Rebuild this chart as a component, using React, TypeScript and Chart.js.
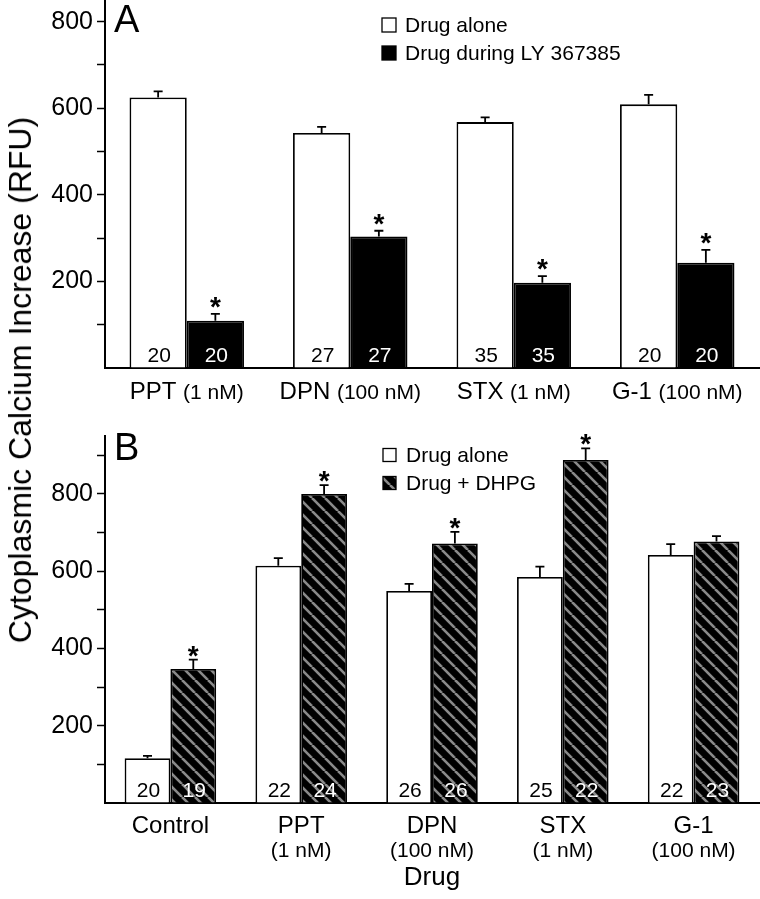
import React, { useEffect, useRef } from 'react';
import { Chart, registerables } from 'chart.js';
Chart.register(...registerables);

const FONT = '"Liberation Sans", Arial, Helvetica, sans-serif';

// ---------- Panel A data ----------
const catsA = ['PPT', 'DPN', 'STX', 'G-1'];
const concA = ['(1 nM)', '(100 nM)', '(1 nM)', '(100 nM)'];
const aloneA = [625, 543, 568, 609];
const aloneErrA = [14, 14, 11, 22];
const lyA = [109, 304, 197, 243];
const lyErrA = [16, 13, 15, 30];
const nAloneA = [20, 27, 35, 20];
const nLyA = [20, 27, 35, 20];
const sigAloneA = [false, false, false, false];
const sigLyA = [true, true, true, true];
const legendA = ['Drug alone', 'Drug during LY 367385'];

// ---------- Panel B data ----------
const catsB = ['Control', 'PPT', 'DPN', 'STX', 'G-1'];
const concB = ['', '(1 nM)', '(100 nM)', '(1 nM)', '(100 nM)'];
const aloneB = [116, 614, 549, 585, 642];
const aloneErrB = [6, 20, 18, 27, 28];
const dhpgB = [347, 800, 672, 888, 677];
const dhpgErrB = [24, 23, 30, 30, 14];
const nAloneB = [20, 22, 26, 25, 22];
const nDhpgB = [19, 24, 26, 22, 23];
const sigAloneB = [false, false, false, false, false];
const sigDhpgB = [true, true, true, true, false];
const legendB = ['Drug alone', 'Drug + DHPG'];

const yTickLabels = [200, 400, 600, 800];
const yTitle = 'Cytoplasmic Calcium Increase (RFU)';
const xTitleB = 'Drug';

function makeHatch(): CanvasPattern | string {
  const s = 13;
  const c = document.createElement('canvas');
  c.width = s;
  c.height = s;
  const g = c.getContext('2d');
  if (!g) return '#000';
  g.fillStyle = '#000';
  g.fillRect(0, 0, s, s);
  g.strokeStyle = '#8a8a8a';
  g.lineWidth = 2.6;
  for (const k of [-1, 0, 1]) {
    g.beginPath();
    g.moveTo(k * s, 0);
    g.lineTo(k * s + s, s);
    g.stroke();
  }
  return g.createPattern(c, 'repeat') || '#000';
}

type Series = {
  values: number[];
  errs: number[];
  n: number[];
  sig: boolean[];
  nColor: string;
};

type Cfg = {
  series: Series[];
  cats: string[];
  conc: string[];
  twoLine: boolean;
  letter: string;
  letterXY: [number, number];
  legend: string[];
  legendFills: (string | CanvasPattern)[];
  legendX: number;
  legendY: number[];
  legendBox: number;
  starOffset: number;
  xTitle?: string;
};

function annotPlugin(cfg: Cfg) {
  return {
    id: 'annot',
    afterDatasetsDraw(chart: any) {
      const ctx: CanvasRenderingContext2D = chart.ctx;
      const ys = chart.scales.y;
      const xs = chart.scales.x;
      const base = ys.getPixelForValue(0);
      ctx.save();
      cfg.series.forEach((s, di) => {
        const meta = chart.getDatasetMeta(di);
        meta.data.forEach((bar: any, i: number) => {
          const cx = bar.x;
          const top = ys.getPixelForValue(s.values[i]);
          const et = ys.getPixelForValue(s.values[i] + s.errs[i]);
          ctx.strokeStyle = '#000';
          ctx.lineWidth = 1.8;
          ctx.beginPath();
          ctx.moveTo(cx, top);
          ctx.lineTo(cx, et);
          ctx.moveTo(cx - 4.5, et);
          ctx.lineTo(cx + 4.5, et);
          ctx.stroke();
          if (s.sig[i]) {
            ctx.fillStyle = '#000';
            ctx.font = `bold 28px ${FONT}`;
            ctx.textAlign = 'center';
            ctx.textBaseline = 'alphabetic';
            ctx.fillText('*', cx, et + cfg.starOffset);
          }
          ctx.fillStyle = s.nColor;
          ctx.font = `21px ${FONT}`;
          ctx.textAlign = 'center';
          ctx.textBaseline = 'alphabetic';
          ctx.fillText(String(s.n[i]), cx + 1, base - 6);
        });
      });

      // category labels
      ctx.fillStyle = '#000';
      ctx.textBaseline = 'alphabetic';
      cfg.cats.forEach((c, i) => {
        const cx = xs.getPixelForValue(i);
        if (!cfg.twoLine) {
          const f1 = `24px ${FONT}`;
          const f2 = `21px ${FONT}`;
          ctx.font = f1;
          const w1 = ctx.measureText(c + ' ').width;
          ctx.font = f2;
          const w2 = ctx.measureText(cfg.conc[i]).width;
          const start = cx - (w1 + w2) / 2;
          ctx.textAlign = 'left';
          ctx.font = f1;
          ctx.fillText(c, start, base + 31);
          ctx.font = f2;
          ctx.fillText(cfg.conc[i], start + w1, base + 31);
        } else {
          ctx.textAlign = 'center';
          ctx.font = `24px ${FONT}`;
          ctx.fillText(c, cx, base + 30);
          if (cfg.conc[i]) {
            ctx.font = `21px ${FONT}`;
            ctx.fillText(cfg.conc[i], cx, base + 54);
          }
        }
      });
      if (cfg.xTitle) {
        ctx.textAlign = 'center';
        ctx.font = `26px ${FONT}`;
        ctx.fillText(cfg.xTitle, (chart.chartArea.left + chart.chartArea.right) / 2, base + 82);
      }

      // panel letter
      ctx.textAlign = 'left';
      ctx.font = `38px ${FONT}`;
      ctx.fillText(cfg.letter, cfg.letterXY[0], cfg.letterXY[1]);

      // legend
      cfg.legend.forEach((t, i) => {
        const b = cfg.legendBox;
        const yy = cfg.legendY[i];
        ctx.fillStyle = cfg.legendFills[i] as any;
        ctx.fillRect(cfg.legendX, yy - b / 2, b, b);
        ctx.strokeStyle = '#000';
        ctx.lineWidth = 1.3;
        ctx.strokeRect(cfg.legendX, yy - b / 2, b, b);
        ctx.fillStyle = '#000';
        ctx.font = `21px ${FONT}`;
        ctx.textAlign = 'left';
        ctx.textBaseline = 'middle';
        ctx.fillText(t, cfg.legendX + 23, yy + 1);
        ctx.textBaseline = 'alphabetic';
      });
      ctx.restore();
    },
  };
}

function makeOptions(max: number, xHeight: number, padTop: number) {
  return {
    responsive: false,
    animation: false as const,
    layout: { autoPadding: false, padding: { top: padTop, left: 0, right: 1, bottom: 0 } },
    plugins: { legend: { display: false }, tooltip: { enabled: false } },
    scales: {
      x: {
        grid: { display: true, drawOnChartArea: false, drawTicks: false },
        border: { display: true, color: '#000', width: 2 },
        ticks: { display: false },
        afterFit: (s: any) => {
          s.height = xHeight;
          s.paddingLeft = 0;
          s.paddingRight = 0;
        },
      },
      y: {
        min: 0,
        max,
        grid: {
          display: true,
          drawOnChartArea: false,
          drawTicks: true,
          tickLength: 8,
          tickWidth: 1.5,
          tickColor: (c: any) => (c.tick && c.tick.value === 0 ? 'rgba(0,0,0,0)' : '#000'),
        },
        border: { display: true, color: '#000', width: 2 },
        ticks: {
          stepSize: 100,
          includeBounds: false,
          padding: 4,
          color: '#000',
          font: { family: FONT, size: 25 },
          callback: (v: any) => (yTickLabels.includes(Number(v)) ? String(v) : ''),
        },
        afterFit: (s: any) => {
          s.width = 105;
          s.paddingTop = 0;
          s.paddingBottom = 0;
        },
      },
    },
  };
}

function PanelA() {
  const ref = useRef<HTMLCanvasElement>(null);
  useEffect(() => {
    if (!ref.current) return;
    const cfg: Cfg = {
      series: [
        { values: aloneA, errs: aloneErrA, n: nAloneA, sig: sigAloneA, nColor: '#000' },
        { values: lyA, errs: lyErrA, n: nLyA, sig: sigLyA, nColor: '#fff' },
      ],
      cats: catsA,
      conc: concA,
      twoLine: false,
      letter: 'A',
      letterXY: [114, 32],
      legend: legendA,
      legendFills: ['#fff', '#000'],
      legendX: 382,
      legendY: [25, 53],
      legendBox: 14,
      starOffset: 2,
    };
    const chart = new Chart(ref.current, {
      type: 'bar',
      data: {
        labels: catsA,
        datasets: [
          { label: legendA[0], data: aloneA, backgroundColor: '#fff', borderColor: '#000', borderWidth: 1.8, categoryPercentage: 0.7, barPercentage: 1 },
          { label: legendA[1], data: lyA, backgroundColor: '#000', borderColor: '#000', borderWidth: 1.8, categoryPercentage: 0.7, barPercentage: 1 },
        ],
      },
      options: makeOptions(850, 52, 0) as any,
      plugins: [annotPlugin(cfg)],
    });
    return () => chart.destroy();
  }, []);
  return <canvas ref={ref} width={760} height={420} style={{ position: 'absolute', left: 0, top: 0, width: 760, height: 420 }} />;
}

function PanelB() {
  const ref = useRef<HTMLCanvasElement>(null);
  useEffect(() => {
    if (!ref.current) return;
    const hatch = makeHatch();
    const cfg: Cfg = {
      series: [
        { values: aloneB, errs: aloneErrB, n: nAloneB, sig: sigAloneB, nColor: '#000' },
        { values: dhpgB, errs: dhpgErrB, n: nDhpgB, sig: sigDhpgB, nColor: '#fff' },
      ],
      cats: catsB,
      conc: concB,
      twoLine: true,
      letter: 'B',
      letterXY: [114, 40],
      legend: legendB,
      legendFills: ['#fff', hatch],
      legendX: 383,
      legendY: [35, 63],
      legendBox: 13,
      starOffset: 5,
      xTitle: xTitleB,
    };
    const chart = new Chart(ref.current, {
      type: 'bar',
      data: {
        labels: catsB,
        datasets: [
          { label: legendB[0], data: aloneB, backgroundColor: '#fff', borderColor: '#000', borderWidth: 1.8, categoryPercentage: 0.7, barPercentage: 1 },
          { label: legendB[1], data: dhpgB, backgroundColor: hatch as any, borderColor: '#000', borderWidth: 1.8, categoryPercentage: 0.7, barPercentage: 1 },
        ],
      },
      options: makeOptions(950, 96, 16) as any,
      plugins: [annotPlugin(cfg)],
    });
    return () => chart.destroy();
  }, []);
  return <canvas ref={ref} width={760} height={479} style={{ position: 'absolute', left: 0, top: 420, width: 760, height: 479 }} />;
}

export default function App() {
  return (
    <div style={{ position: 'absolute', left: 0, top: 0, width: 760, height: 899, background: '#fff', overflow: 'hidden' }}>
      <PanelA />
      <PanelB />
      <div
        style={{
          position: 'absolute',
          left: 20,
          top: 380,
          transform: 'translate(-50%, -50%) rotate(-90deg)',
          whiteSpace: 'nowrap',
          fontFamily: FONT,
          fontSize: 32,
          color: '#000',
          lineHeight: 1,
        }}
      >
        {yTitle}
      </div>
    </div>
  );
}
